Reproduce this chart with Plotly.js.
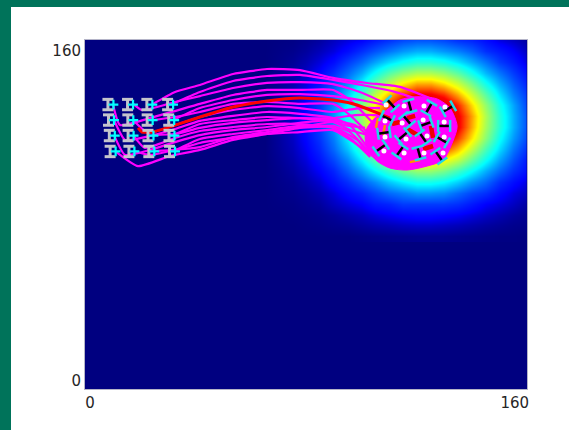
<!DOCTYPE html>
<html><head><meta charset="utf-8">
<script src="https://cdn.plot.ly/plotly-3.0.1.min.js"></script>
<style>
html,body{margin:0;padding:0;background:#fff;overflow:hidden}
#chart{position:absolute;left:0;top:0;width:569px;height:430px}
.band{position:absolute;background:#00735a;z-index:5}
</style></head><body>
<div id="chart"></div>
<div class="band" style="left:0;top:0;width:569px;height:7px"></div>
<div class="band" style="left:0;top:0;width:11px;height:430px"></div>
<script>
// ---- axis labels ----
const xTickVals=[1.8,155.6], xTickText=["0","160"];
const yTickVals=[3.7,155.0], yTickText=["0","160"];
// ---- intensity field (percent) ----
const fieldX=[65,70,75,80,85,90,95,100,105,110,115,120,125,130,135,140,145,150,155,160];
const fieldY=[70,75,80,85,90,95,100,105,110,115,120,125,130,135,140,145,150,155,160];
const fieldZ=[
[0,0,0,0,0,0,0,.1,.2,.3,.4,.5,.5,.5,.4,.3,.2,.1,.1,0],
[0,0,0,.1,.2,.4,.6,1,1.4,1.7,2.1,2.3,2.3,2.1,1.8,1.4,1,.7,.4,.3],
[0,0,.1,.2,.4,.8,1.4,2,2.9,3.7,4.4,4.9,4.9,4.5,3.9,3,2.2,1.5,.9,.5],
[0,.1,.2,.5,.9,2,3,4,6,7,9,9,9,9,8,6,4,3,2,1],
[0,.2,.4,.8,1.6,3,5,7,10,13,15,17,17,16,13,10,8,5,3,2],
[0,.3,.6,1.4,2.6,5,8,12,16,21,25,28,28,26,22,17,13,8,5,3],
[0,.4,1,2.1,4,7,12,18,25,32,38,42,42,39,33,26,19,13,8,5],
[0,.6,1.4,2.9,5.6,10,16,25,35,45,53,58,58,54,47,37,27,18,11,6],
[0,.8,1.8,3.7,7.2,13,21,32,45,58,68,75,75,70,60,47,34,23,14,8],
[0,.9,2.1,4.4,8.5,15,25,38,53,68,81,89,89,83,71,56,41,27,17,10],
[0,1,2.3,4.8,9.3,17,28,41,58,75,89,98,98,91,78,61,44,30,19,11],
[0,1,2.3,4.8,9.4,17,28,42,59,75,89,98,98,91,78,62,45,30,19,11],
[0,.9,2.1,4.5,8.7,16,26,39,54,70,83,91,91,85,73,57,42,28,18,10],
[0,.8,1.8,3.9,7.5,13,22,33,47,60,71,78,78,73,62,49,36,24,15,9],
[0,.6,1.4,3,5.9,11,17,26,37,47,56,62,62,57,49,39,28,19,12,7],
[0,.5,1.1,2.2,4.3,8,13,19,27,35,41,45,45,42,36,28,20,14,9,5],
[0,.3,.7,1.5,2.9,5,9,13,18,23,27,30,30,28,24,19,14,9,6,3],
[0,.2,.4,.9,1.8,3,5,8,11,14,17,19,19,17,15,12,8,6,4,2],
[0,.1,.2,.5,1,2,3,4,6,8,10,11,11,10,8,7,5,3,2,1]];
// ---- magenta trajectories ----
const pathX1=[24.6,32.6,41.6,53.6,65.9,77.8,89.8,102.1,114,127.4], pathY1=[130.7,136.2,139.4,144.4,146.7,146.2,142.6,140.3,138.5,132];
const pathX2=[31.5,41.6,53.6,65.9,77.8,89.8,102.1,112.2,121.3], pathY2=[130.7,136.2,141.2,143.5,144,141.7,138.9,136.2,132.5];
const pathX3=[17.4,20.6,32.6,41.6,53.6,65.9,77.8,89.8,99.5,108.6], pathY3=[130.7,127.9,131.6,134.3,138,140.3,140.7,139.8,136.2,131.1];
const pathX4=[10.1,12.7,23.5,41.6,53.6,65.9,77.8,89.8,95.9,103.9], pathY4=[130.7,121,124.2,130.7,134.8,137.1,137.1,137.1,132.5,122.4];
const pathX5=[31.9,41.6,53.6,65.9,77.8,89.8,99.5,108.6], pathY5=[123.3,128.8,132.5,134.8,135.2,134.3,132.5,130.2];
const pathX6=[24.6,32.6,41.6,53.6,65.9,77.8,89.8,95.9,103.2], pathY6=[123.3,124.7,127,130.7,131.6,130.7,130.7,125.6,116.4];
const pathX7=[17.4,22.8,32.6,41.6,53.6,65.9,77.8,89.8,99.5,106.8], pathY7=[123.3,117.4,121,124.7,127.9,129.7,128.8,127,128.8,128.8];
const pathX8=[10.5,14.5,23.5,32.6,41.6,53.6,65.9,77.8,89.8,95.9,102.4], pathY8=[123.3,114.2,116,119.2,122.9,125.2,127,126.1,124.2,121,110.5];
const pathX9=[31.9,41.6,53.6,65.9,77.8,89.8,97.7,106.1], pathY9=[116.4,121.5,123.3,124.7,124.2,124.2,125.6,125.6];
const pathX10=[24.6,32.6,41.6,53.6,65.9,77.8,89.8,95.9,102.4], pathY10=[116.4,116.9,119.7,122,123.3,124.2,122.4,118.7,116.4];
const pathX11=[17.4,21.7,32.6,41.6,53.6,65.9,77.8,89.8,96.7,103.2], pathY11=[116.4,110.5,115.1,118.3,120.1,121.5,121.5,119.7,114.2,106.4];
const pathX12=[10.5,14.5,23.5,32.6,41.6,53.6,65.9,77.8,88.7,97.7,102.1], pathY12=[116.4,107.3,109.6,113.2,116.4,118.7,120.1,122,123.3,121,116.4];
const pathX13=[32.2,41.6,53.6,65.9,77.8,89.8,95.9,103.9], pathY13=[109.1,114.6,116.9,118.7,120.6,120.6,117.8,107.3];
const pathX14=[25,32.6,41.6,53.6,65.9,77.8,89.8,97.7,106.1], pathY14=[109.1,109.6,112.8,115.1,116.9,117.8,118.7,112.8,105];
const pathX15=[17.7,23.5,32.6,41.6,53.6,65.9,77.8,89.8,94.1,101.4], pathY15=[109.1,107.3,109.6,110.9,115.5,117.8,120.1,122.4,121,119.7];
const pathX16=[10.9,19.2,30.8,41.6,53.6,65.9,77.8,89.8,98.5,102.1], pathY16=[109.1,102.2,106.8,109.6,114.2,116.9,119.7,120.1,114.2,108.7];
// ---- magenta mass around the goal ----
const blobX=[102.1,101.4,102.4,105.7,110.4,116.6,123.8,129.6,133.2,134.7,132.1,127.4,120.2,114,109.3,105,102.1];
const blobY=[119.7,115.1,109.6,104.5,101.3,100.4,102.2,105,113.7,120.6,128.8,133,134,132.5,127.9,124.2,119.7];
// ---- red trajectory and gaps inside the mass ----
const redX=[19.2,20.6,24.3,29.7,41.6,53.6,65.9,77.8,89.8,98.5,105,110.4];
const redY=[119.7,117.8,117.8,119.7,124.7,129.3,132,133.4,132.5,130.2,127,124.2];
const coreX=[111.1,114,null,116.6,119.5,null,116.6,120.5,null,125.2,126,null,122.4,126];
const coreY=[121.5,122.4,null,124.2,125.2,null,119.2,116.4,null,120.6,115.1,null,110,111.4];
const orangeX=[106.1,105.3,null,108.6,107.9,null,117.6,121.3];
const orangeY=[124.2,119.7,null,121,116.4,null,104,105];
// ---- start glyphs ----
const startX=[8.3,15.4,22.4,29.9, 8.5,15.5,22.5,30.3, 8.8,15.6,22.8,30.4, 9.1,15.9,23.1,30.6];
const startY=[130.4,130.4,130.4,130.4, 123.3,123.3,123.3,123.3, 116.2,116.2,116.2,116.2, 108.9,108.9,108.9,108.9];
// ---- goal glyphs ----
const goalX=[110.8,117.6,124.5,131.4, 109.3,116.6,123.4,130, 108.2,115.1,122.4,129.2, 107.1,114,120.9,128.1];
const goalY=[130.7,129.7,128.8,128.4, 124.2,123.3,121.5,120.6, 117.4,116,115.1,114.2, 110.5,109.1,108.2,106.8];
const goalAngle=[-48,-75,60,30, -25,-50,20,0, 8,40,-55,-30, 35,55,-75,-55];
const dotX=[109,115.5,122.7,130.3, 108.6,114.8,122.4,130, 108.6,116.2,123.8,130, 108.2,115.5,122.7,129.6];
const dotY=[130.2,129.7,129.7,129.3, 122.9,122,123.3,122.4, 115.5,114.6,116,115.5, 109.1,108.2,108.2,108.2];

const W=442,H=349,RANGE=160, ux=RANGE/W, uy=RANGE/H; // data units per pixel
const jet=[[0,'#000080'],[0.012,'#0000a8'],[0.04,'#0000ff'],[0.26,'#00ffff'],[0.40,'#80ff80'],[0.54,'#ffff00'],[0.76,'#ff0000'],[1,'#a00000']];
const traces=[{type:'heatmap',x:fieldX,y:fieldY,z:fieldZ,zmin:0,zmax:100,zsmooth:'best',colorscale:jet,showscale:false,hoverinfo:'skip'}];
const paths=[[pathX1,pathY1],[pathX2,pathY2],[pathX3,pathY3],[pathX4,pathY4],[pathX5,pathY5],[pathX6,pathY6],[pathX7,pathY7],[pathX8,pathY8],[pathX9,pathY9],[pathX10,pathY10],[pathX11,pathY11],[pathX12,pathY12],[pathX13,pathY13],[pathX14,pathY14],[pathX15,pathY15],[pathX16,pathY16]];
paths.forEach(p=>traces.push({type:'scatter',mode:'lines',x:p[0],y:p[1],line:{color:'#ff00ff',width:2.2,shape:'spline',smoothing:0.5},hoverinfo:'skip'}));
traces.push({type:'scatter',mode:'lines',x:blobX,y:blobY,fill:'toself',fillcolor:'#ff00ff',line:{color:'#ff00ff',width:1,shape:'spline',smoothing:0.8},hoverinfo:'skip'});
traces.push({type:'scatter',mode:'lines',x:orangeX,y:orangeY,line:{color:'#ff9000',width:2.5},hoverinfo:'skip'});
traces.push({type:'scatter',mode:'lines',x:coreX,y:coreY,line:{color:'#f00000',width:4.5},hoverinfo:'skip'});
traces.push({type:'scatter',mode:'lines',x:redX,y:redY,line:{color:'#ff0000',width:3,shape:'spline',smoothing:0.5},hoverinfo:'skip'});
// start glyphs: grey I with cyan cross
const gx=[],gy=[];
startX.forEach((x,i)=>{const y=startY[i],a=5.5*ux,b=5.2*uy;
  gx.push(x-a,x+a,null,x-a,x+a,null,x,x,null);
  gy.push(y+b,y+b,null,y-b,y-b,null,y+b,y-b,null);});
traces.push({type:'scatter',mode:'lines',x:gx,y:gy,line:{color:'#c4c4cc',width:3},hoverinfo:'skip'});
traces.push({type:'scatter',mode:'markers',x:startX.map(v=>v+5.5*ux),y:startY,marker:{symbol:'cross-thin',size:7,line:{color:'#00ffff',width:2.2}},hoverinfo:'skip'});
// goal glyphs: black bar with cyan caps
const bx=[],by=[],cx=[],cy=[];
goalX.forEach((x,i)=>{const t=goalAngle[i]*Math.PI/180,L=6,C=6;
  const ex=L*Math.cos(t),ey=L*Math.sin(t),px=-C*Math.sin(t),py=C*Math.cos(t),y=goalY[i];
  bx.push(x-ex*ux,x+ex*ux,null);by.push(y-ey*uy,y+ey*uy,null);
  [1,-1].forEach(s=>{cx.push(x+(s*ex-px)*ux,x+(s*ex+px)*ux,null);cy.push(y+(s*ey-py)*uy,y+(s*ey+py)*uy,null);});});
traces.push({type:'scatter',mode:'lines',x:bx,y:by,line:{color:'#000000',width:2.5},hoverinfo:'skip'});
traces.push({type:'scatter',mode:'lines',x:cx,y:cy,line:{color:'#20d8e8',width:2.5},hoverinfo:'skip'});
traces.push({type:'scatter',mode:'markers',x:dotX,y:dotY,marker:{symbol:'circle',size:5,color:'#ffffff'},hoverinfo:'skip'});

const axis={range:[0,RANGE],showgrid:false,zeroline:false,ticks:'',showline:true,mirror:true,linecolor:'#b4b4c8',linewidth:1,fixedrange:true,tickfont:{family:'DejaVu Sans',size:15,color:'#262626'},tickmode:'array'};
Plotly.newPlot('chart',traces,{
  width:569,height:430,showlegend:false,
  margin:{l:85,r:42,t:40,b:41,pad:0},
  paper_bgcolor:'#ffffff',plot_bgcolor:'#000080',
  xaxis:Object.assign({},axis,{tickvals:xTickVals,ticktext:xTickText}),
  yaxis:Object.assign({},axis,{tickvals:yTickVals,ticktext:yTickText})
},{staticPlot:true,displayModeBar:false});
</script>
</body></html>
